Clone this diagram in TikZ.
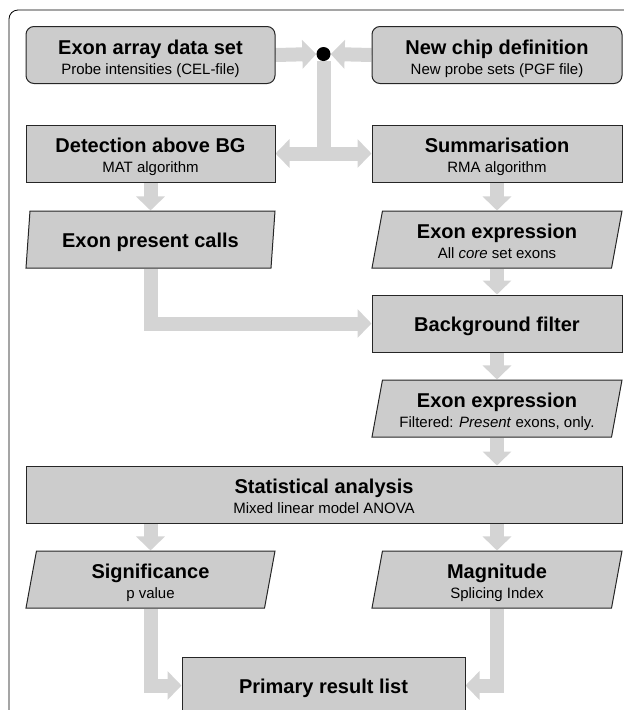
\documentclass[tikz,border=0pt]{standalone}
\usepackage{fontspec}
\setmainfont{Liberation Sans}
\usetikzlibrary{shapes.geometric,arrows.meta,backgrounds}

\definecolor{boxgray}{RGB}{204,204,204}
\definecolor{flowgray}{RGB}{212,212,212}

\newcommand{\boxhead}[1]{{\fontsize{20}{20}\selectfont\bfseries #1}}

\tikzset{
  procbox/.style={draw=black!85, line width=1pt, fill=boxgray, minimum height=57pt,
    align=center, inner sep=0pt, font=\fontsize{15}{20}\selectfont,
    text height=16pt, text depth=0pt},
  twoline/.style={text height=40pt, text depth=2pt},
  inbox/.style={procbox, rounded corners=8pt},
  databox/.style={procbox, trapezium, trapezium left angle=76, trapezium right angle=104,
    trapezium stretches body},
  flow/.style={draw=flowgray, line width=14pt, ->},
}

\begin{document}
\begin{tikzpicture}[x=1pt, y=-1pt, >={Triangle[length=14pt,width=28pt]}]

\useasboundingbox (0,0) rectangle (624,710);

% Outer frame
\draw[line width=0.8pt, rounded corners=9pt] (9,730) -- (9,10) -- (640,10);

% Input data
\node[inbox, twoline, minimum width=249pt] (exon) at (150.5,55)
  {\boxhead{Exon array data set}\\ Probe intensities (CEL-file)};
\node[inbox, twoline, minimum width=250pt] (chip) at (497,55)
  {\boxhead{New chip definition}\\ New probe sets (PGF file)};
\node[circle, fill=black, minimum size=14pt, inner sep=0pt] (dot) at (323.5,54) {};

% Preprocessing
\node[procbox, twoline, minimum width=249pt] (detect) at (150.5,153.5)
  {\boxhead{Detection above BG}\\ MAT algorithm};
\node[procbox, twoline, minimum width=250pt] (summ) at (497,153.5)
  {\boxhead{Summarisation}\\ RMA algorithm};

\node[databox, minimum width=249pt] (present) at (150.5,239.5)
  {\boxhead{Exon present calls}};
\node[databox, twoline, minimum width=250pt] (expr) at (497,239.5)
  {\boxhead{Exon expression}\\ All \textit{core} set exons};

\node[procbox, minimum width=250pt] (bgfilter) at (497,323.5)
  {\boxhead{Background filter}};
\node[databox, twoline, minimum width=250pt] (filtexpr) at (497,408.5)
  {\boxhead{Exon expression}\\ Filtered: \textit{Present} exons, only.};

% Analysis
\node[procbox, twoline, minimum width=596pt] (stat) at (324,494.5)
  {\boxhead{Statistical analysis}\\ Mixed linear model ANOVA};
\node[databox, twoline, minimum width=249pt] (signif) at (150.5,579.5)
  {\boxhead{Significance}\\ p value};
\node[databox, twoline, minimum width=250pt] (magn) at (497,579.5)
  {\boxhead{Magnitude}\\ Splicing Index};
\node[procbox, minimum width=283pt] (primary) at (323.5,685.5)
  {\boxhead{Primary result list}};

% Flow arrows
\begin{scope}[on background layer]
  \draw[flow] (exon.east) -- (dot.west);
  \draw[flow] (chip.west) -- (dot.east);
  \draw[flow, -] (dot.south) -- (dot |- detect.east);
  \draw[flow, <->] (detect.east) -- (summ.west);

  \draw[flow] (detect.south) -- (present.north -| detect.south);
  \draw[flow] (present.south -| present) |- (bgfilter.west);

  \draw[flow] (summ.south) -- (expr.north -| summ.south);
  \draw[flow] (expr.south -| expr) -- (bgfilter.north);
  \draw[flow] (bgfilter.south) -- (filtexpr.north -| bgfilter.south);
  \draw[flow] (filtexpr.south -| filtexpr) -- (stat.north -| filtexpr);

  \foreach \res in {signif, magn}
    \draw[flow] (stat.south -| \res) -- (\res.north -| \res);

  \draw[flow] (signif.south -| signif) |- (primary.west);
  \draw[flow] (magn.south -| magn) |- (primary.east);
\end{scope}

\end{tikzpicture}
\end{document}
